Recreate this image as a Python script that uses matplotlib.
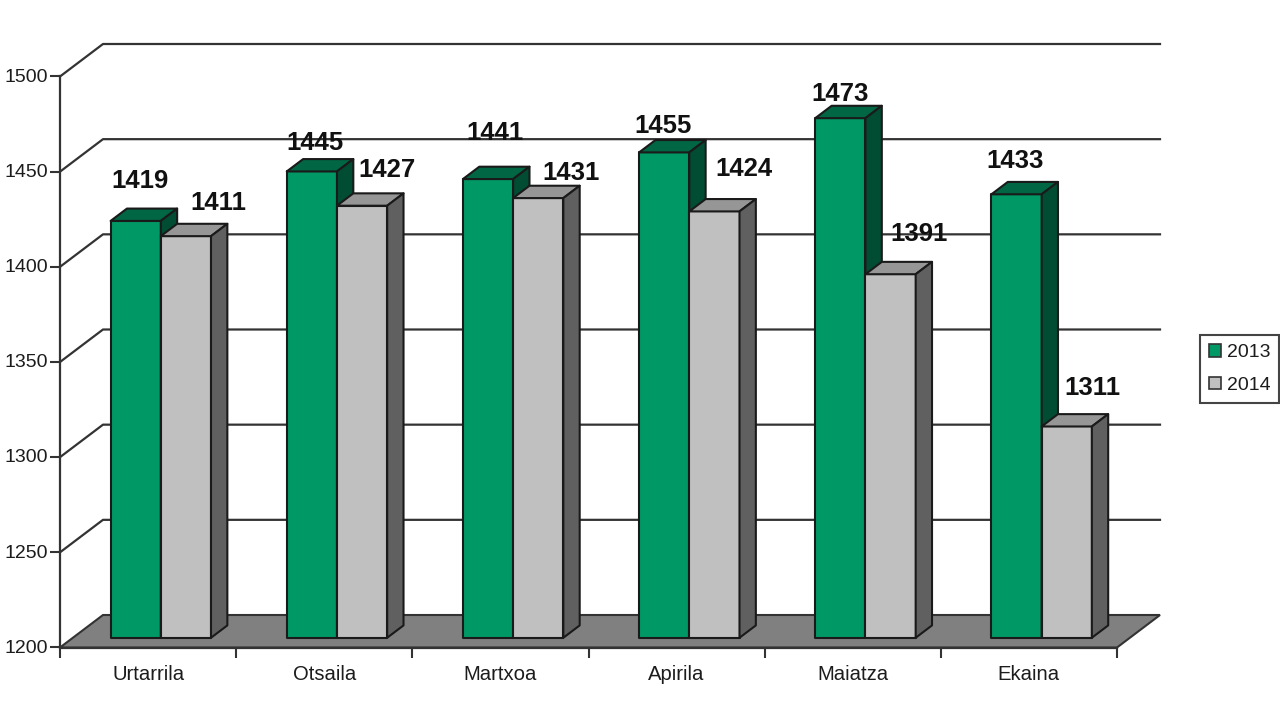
""" 3D style grouped bars, 2013 vs 2014, drawn by hand on normal 2D axes """

import matplotlib
matplotlib.use('Agg')
import matplotlib.pyplot as plt
from matplotlib.patches import Patch, Polygon
from matplotlib.transforms import ScaledTranslation
import numpy as np

plt.rcParams['font.family'] = ['Liberation Sans', 'DejaVu Sans']

months = ['Urtarrila', 'Otsaila', 'Martxoa', 'Apirila', 'Maiatza', 'Ekaina']
values_2013 = [1419, 1445, 1441, 1455, 1473, 1433]
values_2014 = [1411, 1427, 1431, 1424, 1391, 1311]
y_ticks = [1200, 1250, 1300, 1350, 1400, 1450, 1500]

W, H = 1280, 723
AX_L, AX_R, AX_TOP, AX_BOT = 60, 1117, 76.5, 647.5

# depth of the fake 3D box, in data units
DX = 43 / ((AX_R - AX_L) / 6)
DY = 32.5 / ((AX_BOT - AX_TOP) / 300)
Z_FRONT, Z_BACK = 0.30, 0.68
BAR_LEFT, BAR_W = 0.214, 0.285

LINE = '#333333'
EDGE = '#1a1a1a'
TEXT = '#1c1c1c'

# label shift from the top of the bar's front face, in pixels (the original is uneven)
nudge_2013 = [(4, 40), (3, 28), (7, 46), (-1, 26), (0, 24), (-1, 33)]
nudge_2014 = [(32, 33), (25, 36), (33, 25), (30, 42), (28, 40), (26, 38)]


def project(x, val, z):
    return (x + z * DX, val + z * DY)


def draw_bar(ax, x, val, front, top, side):
    a = project(x, 1200, Z_FRONT)
    b = project(x + BAR_W, 1200, Z_FRONT)
    c = project(x + BAR_W, val, Z_FRONT)
    d = project(x, val, Z_FRONT)
    e = project(x + BAR_W, val, Z_BACK)
    f = project(x, val, Z_BACK)
    g = project(x + BAR_W, 1200, Z_BACK)
    for pts, col in [([a, b, c, d], front), ([d, c, e, f], top), ([b, g, e, c], side)]:
        ax.add_patch(Polygon(pts, closed=True, facecolor=col, edgecolor=EDGE, lw=1.5,
                             joinstyle='round', clip_on=False, zorder=5))


fig = plt.figure(figsize=(W / 100, H / 100), dpi=100)
ax = fig.add_axes([AX_L / W, 1 - AX_BOT / H, (AX_R - AX_L) / W, (AX_BOT - AX_TOP) / H])
ax.set_xlim(0, 6)
ax.set_ylim(1200, 1500)
ax.patch.set_visible(False)

for s in ['top', 'right']:
    ax.spines[s].set_visible(False)
for s in ['left', 'bottom']:
    ax.spines[s].set_color(LINE)
    ax.spines[s].set_linewidth(1.6)
    ax.spines[s].set_zorder(6)

ax.set_yticks(y_ticks)
ax.set_xticks(np.arange(0, 7))
ax.set_xticklabels([])
ax.set_xticks(np.arange(6) + 0.5, labels=months, minor=True)
ax.tick_params(axis='y', length=7, width=1.5, color=LINE, labelsize=14, labelcolor=TEXT, pad=1.8)
ax.tick_params(axis='x', which='major', length=7, width=1.5, color=LINE)
ax.tick_params(axis='x', which='minor', length=0, labelsize=14.6, labelcolor=TEXT, pad=12.5)

# y labels sit a touch above their ticks in the original
for lab in ax.get_yticklabels():
    lab.set_transform(lab.get_transform() + ScaledTranslation(0, 1.2 / 100, fig.dpi_scale_trans))

# floor
ax.add_patch(Polygon([(0, 1200), project(0, 1200, 1), project(6, 1200, 1), (6, 1200)], closed=True,
                     facecolor='#808080', edgecolor=LINE, lw=1.5, clip_on=False, zorder=1))

# back wall lines plus the diagonals on the side wall
for v in y_ticks[1:]:
    back_l = project(0, v, 1)
    back_r = project(6, v, 1)
    ax.plot([0, back_l[0], back_r[0]], [v, back_l[1], back_r[1]], color=LINE, lw=1.6,
            clip_on=False, zorder=2)

for i in range(len(months)):
    x = i + BAR_LEFT
    draw_bar(ax, x, values_2013[i], '#009966', '#006644', '#004d33')
    draw_bar(ax, x + BAR_W, values_2014[i], '#c0c0c0', '#969696', '#606060')

    for xb, val, nudge in [(x, values_2013[i], nudge_2013[i]), (x + BAR_W, values_2014[i], nudge_2014[i])]:
        anchor = project(xb + BAR_W / 2, val, Z_FRONT)
        ax.annotate(str(val), anchor, xytext=(nudge[0] * 0.72, nudge[1] * 0.72), textcoords='offset points',
                    ha='center', va='center', fontsize=18.5, fontweight='bold', color='#111111',
                    annotation_clip=False, zorder=8)

handles = [Patch(facecolor='#009966', edgecolor=LINE, lw=1.2, label='2013'),
           Patch(facecolor='#c0c0c0', edgecolor=LINE, lw=1.2, label='2014')]
leg = fig.legend(handles=handles, loc='center left', bbox_to_anchor=(1200 / W, 1 - 369 / H),
                 fontsize=14, frameon=True, fancybox=False, edgecolor='#444444', framealpha=1,
                 handlelength=0.62, handleheight=0.62, handletextpad=0.3, labelspacing=0.8,
                 borderpad=0.45, borderaxespad=0, labelcolor=TEXT)
leg.get_frame().set_linewidth(1.5)

fig.savefig('out.png', dpi=100)
